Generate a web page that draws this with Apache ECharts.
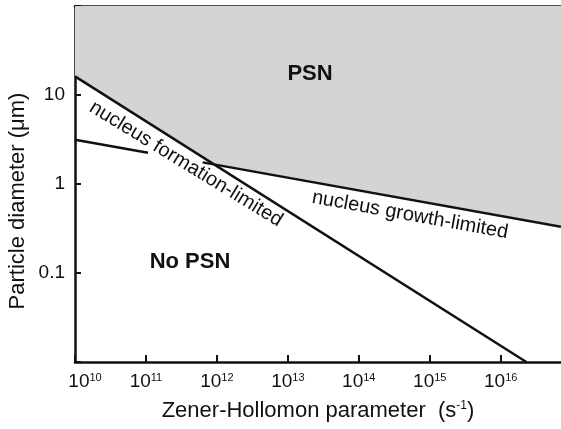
<!DOCTYPE html>
<html>
<head>
<meta charset="utf-8">
<script src="https://cdn.jsdelivr.net/npm/echarts@6/dist/echarts.min.js"></script>
<style>
  html, body { margin: 0; padding: 0; background: #ffffff; }
  #chart { width: 561px; height: 429px; }
</style>
</head>
<body>
<div id="chart"></div>
<script>
// Axis ranges (Zener-Hollomon parameter in s^-1, particle diameter in µm)
const xRange = [1e10, 7.08e16];
const yRange = [0.01, 100];

// Tick labels
const xTickExponents = [10, 11, 12, 13, 14, 15, 16];
const yTickLabels = ['0.1', '1', '10'];

// Boundary of the PSN field (upper envelope of the two limits)
const psnBoundary = [[1e10, 16.2], [9.4e11, 1.63], [7.08e16, 0.33]];
// Nucleus formation-limited critical diameter
const formationLimited = [[1e10, 16.2], [2.3e16, 0.01]];
// Nucleus growth-limited critical diameter (broken where the label crosses it)
const growthLeft = [[1e10, 3.15], [1.07e11, 2.24]];
const growthRight = [[6.3e11, 1.75], [7.08e16, 0.33]];

const FONT = 'Liberation Sans, Arial, Helvetica, sans-serif';
const INK = '#111111';

const xTickValues = xTickExponents.map(e => Math.pow(10, e));

const chart = echarts.init(document.getElementById('chart'), null, { renderer: 'canvas' });

function nearDecade(v) {
  const l = Math.log10(v);
  const e = Math.round(l);
  return Math.abs(l - e) < 0.01 ? e : null;
}

const lineSeries = (name, data) => ({
  name, type: 'line', data, symbol: 'none', z: 3,
  lineStyle: { color: INK, width: 2.5 }, silent: true
});

chart.setOption({
  animation: false,
  grid: { left: 75, top: 6, right: 0, bottom: 67, outerBoundsMode: 'none', containLabel: false },
  xAxis: [{
    type: 'log', logBase: 10, min: xRange[0], max: xRange[1], interval: 1,
    name: 'Zener-Hollomon parameter  ({s|s}{sup|-1})',
    nameLocation: 'middle', nameGap: 38,
    nameTextStyle: {
      fontFamily: FONT, fontSize: 22, color: INK,
      rich: {
        s: { fontFamily: FONT, fontSize: 22, color: INK },
        sup: { fontFamily: FONT, fontSize: 12, color: INK, verticalAlign: 'top' }
      }
    },
    axisLine: { show: true, lineStyle: { color: INK, width: 2.5 } },
    axisTick: { show: true, inside: true, length: 7, customValues: xTickValues, lineStyle: { color: INK, width: 2 } },
    splitLine: { show: false },
    axisLabel: {
      margin: 10,
      customValues: xTickValues,
      formatter: v => {
        const e = nearDecade(v);
        if (e === null || !xTickExponents.includes(e)) return '';
        // the first label sits a little inside the corner
        const base = e === xTickExponents[0] ? 'b0' : 'b';
        return '{' + base + '|10}{s|' + e + '}';
      },
      rich: {
        b: { fontFamily: FONT, fontSize: 19, color: INK },
        b0: { fontFamily: FONT, fontSize: 19, color: INK, padding: [0, 0, 0, 20] },
        s: { fontFamily: FONT, fontSize: 11, color: INK, verticalAlign: 'top' }
      }
    }
  }, {
    type: 'log', logBase: 10, min: xRange[0], max: xRange[1], position: 'top',
    axisLine: { show: true, lineStyle: { color: INK, width: 2.5 } },
    axisTick: { show: false }, axisLabel: { show: false }, splitLine: { show: false }
  }],
  yAxis: {
    type: 'log', logBase: 10, min: yRange[0], max: yRange[1], interval: 1,
    axisLine: { show: true, lineStyle: { color: INK, width: 2.5 } },
    axisTick: { show: true, inside: true, length: 6, lineStyle: { color: INK, width: 2 } },
    splitLine: { show: false },
    axisLabel: {
      margin: 10, fontFamily: FONT, fontSize: 19, color: INK,
      formatter: v => {
        const e = nearDecade(v);
        const idx = e === null ? -1 : e + 1;
        return (idx >= 0 && idx < yTickLabels.length) ? yTickLabels[idx] : '';
      }
    }
  },
  series: [
    {
      name: 'PSN', type: 'line', data: psnBoundary, symbol: 'none', z: 1, silent: true,
      lineStyle: { width: 0 },
      areaStyle: { origin: 'end', color: '#d4d4d4', opacity: 1 }
    },
    lineSeries('nucleus formation-limited', formationLimited),
    lineSeries('nucleus growth-limited', growthLeft),
    lineSeries('nucleus growth-limited ', growthRight)
  ],
  graphic: [
    {
      type: 'text', x: 18, y: 201, rotation: Math.PI / 2, z: 10,
      style: { text: 'Particle diameter (μm)', fontFamily: FONT, fontSize: 22, fill: INK, align: 'center', verticalAlign: 'middle' }
    },
    {
      type: 'text', x: 310, y: 74, z: 10,
      style: { text: 'PSN', fontFamily: FONT, fontSize: 22, fontWeight: 'bold', fill: INK, align: 'center', verticalAlign: 'middle' }
    },
    {
      type: 'text', x: 190, y: 262, z: 10,
      style: { text: 'No PSN', fontFamily: FONT, fontSize: 22, fontWeight: 'bold', fill: INK, align: 'center', verticalAlign: 'middle' }
    },
    {
      type: 'text', x: 186, y: 164, rotation: -31.5 * Math.PI / 180, z: 10,
      style: { text: 'nucleus formation-limited', fontFamily: FONT, fontSize: 20, fill: INK, align: 'center', verticalAlign: 'middle' }
    },
    {
      type: 'text', x: 410, y: 215, rotation: -10.3 * Math.PI / 180, z: 10,
      style: { text: 'nucleus growth-limited', fontFamily: FONT, fontSize: 20, fill: INK, align: 'center', verticalAlign: 'middle' }
    }
  ]
});
</script>
</body>
</html>
